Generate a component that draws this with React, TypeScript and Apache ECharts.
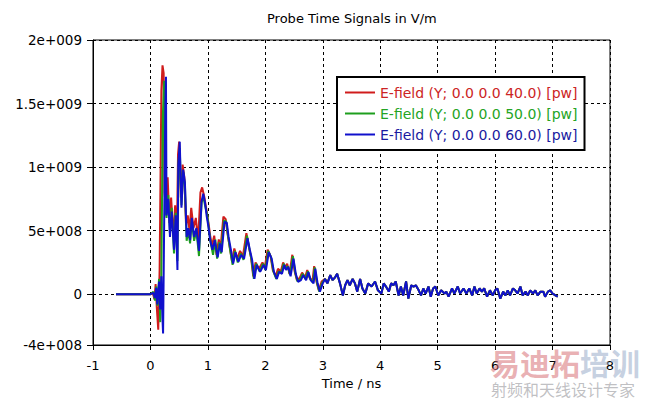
import React, { useEffect, useRef } from "react";
import * as echarts from "echarts";

const titleText = "Probe Time Signals in V/m";
const xName = "Time / ns";
const seriesNames = [
  "E-field (Y; 0.0 0.0 40.0) [pw]",
  "E-field (Y; 0.0 0.0 50.0) [pw]",
  "E-field (Y; 0.0 0.0 60.0) [pw]",
];
const seriesColors = ["#d01c1c", "#1e9e1e", "#1010cc"];
const legendTextColors = ["#cc2424", "#24a424", "#1a1aa0"];

const yTickValues = [-4e8, 0, 5e8, 1e9, 1.5e9, 2e9];
const yTickLabels = ["-4e+008", "0", "5e+008", "1e+009", "1.5e+009", "2e+009"];
const xTickValues = [-1, 0, 1, 2, 3, 4, 5, 6, 7, 8];

// values in units of 1e8 V/m, time in ns
const redHead: [number, number][] = [
  [-0.6, 0], [0.0, 0], [0.04, 0.1], [0.07, -0.4], [0.09, 0.8], [0.11, -1.0], [0.136, -2.8], [0.16, 2.0],
  [0.19, 16.0], [0.21, 18.0], [0.23, 17.4], [0.245, 8.0], [0.27, 6.8], [0.30, 9.2], [0.33, 5.6], [0.36, 7.6],
  [0.40, 4.4], [0.43, 7.0], [0.46, 4.2], [0.48, 11.0], [0.50, 12.0], [0.53, 7.6], [0.56, 10.2], [0.59, 9.2],
  [0.62, 5.4], [0.65, 6.2], [0.68, 5.0], [0.71, 6.8], [0.75, 5.2], [0.79, 6.0], [0.83, 4.2], [0.87, 8.0],
  [0.90, 8.4], [0.94, 7.6], [0.98, 6.5], [1.01, 5.6], [1.04, 4.6], [1.07, 3.8], [1.11, 4.6], [1.15, 3.1],
  [1.19, 4.3], [1.22, 3.6], [1.27, 6.1], [1.31, 5.9], [1.34, 4.8], [1.38, 3.7], [1.42, 2.6], [1.46, 3.6],
  [1.51, 2.8], [1.56, 3.4], [1.61, 3.0], [1.67, 4.8], [1.71, 3.8], [1.75, 2.9], [1.79, 1.4], [1.83, 2.5],
  [1.89, 2.0], [1.95, 2.5], [1.99, 2.1], [2.04, 3.5], [2.09, 3.0], [2.13, 1.9], [2.18, 1.4], [2.22, 2.0],
  [2.27, 1.8], [2.31, 2.5], [2.34, 2.1], [2.38, 2.4], [2.42, 1.6], [2.47, 3.1], [2.51, 1.8], [2.55, 1.1],
  [2.60, 1.3], [2.64, 1.7], [2.69, 1.3], [2.73, 1.9], [2.77, 1.3], [2.82, 1.0], [2.85, 2.2], [2.89, 1.0],
  [2.93, 0.3], [2.98, 1.0],
];

const greenHead: [number, number][] = [
  [-0.6, 0], [0.0, 0], [0.05, 0.2], [0.08, -0.5], [0.1, 0.6], [0.12, -0.9], [0.15, 1.2], [0.17, -2.2],
  [0.19, 1.5], [0.215, 14.0], [0.24, 16.8], [0.255, 7.0], [0.28, 6.0], [0.31, 7.8], [0.34, 4.8], [0.37, 6.8],
  [0.41, 3.2], [0.44, 6.4], [0.47, 2.6], [0.49, 10.5], [0.51, 11.5], [0.54, 7.0], [0.57, 9.6], [0.60, 8.6],
  [0.63, 4.2], [0.66, 5.0], [0.69, 4.0], [0.72, 5.8], [0.76, 4.2], [0.80, 5.0], [0.845, 3.0], [0.89, 7.2],
  [0.92, 7.7], [0.95, 7.0], [0.99, 6.2], [1.02, 5.0], [1.05, 4.0], [1.09, 3.1], [1.13, 4.3], [1.16, 2.8],
  [1.20, 4.1], [1.23, 3.2], [1.28, 5.8], [1.32, 5.7], [1.35, 4.6], [1.39, 3.4], [1.43, 2.3], [1.47, 3.4],
  [1.52, 2.5], [1.57, 3.2], [1.62, 2.7], [1.68, 4.6], [1.72, 3.6], [1.76, 2.7], [1.80, 1.2], [1.84, 2.4],
  [1.90, 1.8], [1.96, 2.4], [2.00, 1.9], [2.05, 3.4], [2.10, 2.9], [2.14, 1.8], [2.19, 1.2], [2.23, 1.8],
  [2.28, 1.7], [2.32, 2.4], [2.35, 2.0], [2.39, 2.2], [2.43, 1.5], [2.48, 3.0], [2.52, 1.7], [2.56, 1.0],
  [2.61, 1.2], [2.65, 1.6], [2.70, 1.2], [2.74, 1.8], [2.78, 1.2], [2.83, 0.9], [2.86, 2.1], [2.90, 0.9],
  [2.94, 0.2], [2.99, 0.9],
];

const blueHead: [number, number][] = [
  [-0.6, 0], [0.0, 0], [0.05, 0.1], [0.08, -0.3], [0.1, 0.5], [0.12, -0.8], [0.15, 1.0], [0.17, -1.2],
  [0.19, 1.4], [0.21, -2.0], [0.22, -3.1], [0.24, 6.0], [0.26, 15.0], [0.27, 17.1], [0.28, 6.2], [0.31, 7.5],
  [0.34, 4.5], [0.37, 6.5], [0.41, 3.5], [0.44, 6.2], [0.47, 1.9], [0.485, 10.2], [0.51, 12.0], [0.54, 6.8],
  [0.57, 9.8], [0.60, 8.8], [0.63, 4.5], [0.66, 5.2], [0.69, 4.25], [0.72, 6.0], [0.76, 4.5], [0.80, 5.2],
  [0.845, 3.4], [0.89, 7.3], [0.92, 7.9], [0.95, 7.2], [0.98, 6.1], [1.01, 5.3], [1.04, 4.25], [1.08, 3.5],
  [1.12, 4.25], [1.17, 2.9], [1.21, 4.0], [1.24, 3.3], [1.29, 5.7], [1.33, 5.6], [1.36, 4.5], [1.40, 3.5],
  [1.44, 2.4], [1.48, 3.3], [1.53, 2.55], [1.58, 3.1], [1.63, 2.8], [1.69, 4.4], [1.73, 3.5], [1.77, 2.7],
  [1.81, 1.2], [1.85, 2.3], [1.91, 1.75], [1.97, 2.3], [2.01, 1.9], [2.06, 3.3], [2.11, 2.8], [2.15, 1.75],
  [2.20, 1.2], [2.24, 1.75], [2.29, 1.6], [2.33, 2.3], [2.36, 1.9], [2.40, 2.15], [2.44, 1.4], [2.49, 2.8],
  [2.53, 1.6], [2.57, 0.97], [2.62, 1.1], [2.66, 1.5], [2.71, 1.1], [2.75, 1.75], [2.79, 1.1], [2.84, 0.85],
  [2.87, 2.0], [2.91, 0.85], [2.95, 0.2], [3.0, 0.85],
];

// late part, where the three traces coincide
const sharedTail: [number, number][] = [
  [3.04, 1.2], [3.08, 0.85], [3.13, 1.5], [3.17, 1.1], [3.21, 1.3], [3.25, 1.6], [3.30, 0.85], [3.35, -0.1],
  [3.39, 0.7], [3.43, 1.1], [3.47, 0.7], [3.52, 1.2], [3.56, 0.85], [3.60, 0.2], [3.65, 1.2], [3.69, 0.45],
  [3.74, 0.05], [3.79, 0.85], [3.85, 0.6], [3.91, 1.0], [3.96, 0.3], [4.02, 0.05], [4.06, 0.85], [4.10, 0.6],
  [4.15, 0.2], [4.19, 0.85], [4.23, 0.7], [4.27, 1.0], [4.32, -0.1], [4.36, 0.6], [4.40, -0.1], [4.45, 1.0],
  [4.49, -0.35], [4.54, 0.7], [4.58, 0.6], [4.62, 0.7], [4.67, 0.3], [4.71, -0.1], [4.75, 0.45], [4.79, 0.05],
  [4.84, 0.6], [4.88, -0.2], [4.92, 0.45], [4.96, 0.6], [5.01, -0.1], [5.06, 0.3], [5.12, 0.05], [5.15, 0.2],
  [5.19, -0.2], [5.25, 0.45], [5.29, 0.05], [5.35, 0.6], [5.39, 0.05], [5.45, 0.45], [5.50, 0.05], [5.55, 0.45],
  [5.60, -0.1], [5.64, 0.6], [5.68, 0.05], [5.73, 0.45], [5.77, 0.2], [5.81, 0.45], [5.86, -0.2], [5.91, 0.3],
  [5.96, -0.1], [6.00, 0.3], [6.04, 0.45], [6.09, -0.35], [6.14, 0.2], [6.18, -0.1], [6.22, 0.3], [6.26, -0.1],
  [6.31, 0.45], [6.35, 0.3], [6.39, 0.05], [6.44, 0.6], [6.48, -0.1], [6.53, 0.2], [6.57, -0.1], [6.61, 0.3],
  [6.66, 0.05], [6.70, 0.3], [6.74, -0.1], [6.79, 0.2], [6.84, 0.2], [6.87, -0.2], [6.92, 0.2], [6.96, 0.3],
  [7.00, 0.05], [7.05, -0.1], [7.09, -0.2],
];

const watermarkTopA = "易迪拓";
const watermarkTopB = "培训";
const watermarkBottom = "射频和天线设计专家";

const FONT = "DejaVu Sans";

export default function App() {
  const ref = useRef<HTMLDivElement>(null);

  useEffect(() => {
    document.body.style.margin = "0";
    if (!ref.current) return;
    const chart = echarts.init(ref.current, undefined, { renderer: "svg" });
    const heads = [redHead, greenHead, blueHead];
    const toData = (h: [number, number][]) =>
      h.concat(sharedTail).map(([t, v]) => [t, v * 1e8]);

    chart.setOption({
      animation: false,
      backgroundColor: "#ffffff",
      textStyle: { fontFamily: FONT },
      title: {
        text: titleText,
        left: 267,
        top: 12,
        padding: 0,
        textStyle: { fontSize: 13, fontWeight: "normal", color: "#000", fontFamily: FONT },
      },
      grid: {
        left: 93,
        top: 40,
        right: 35,
        bottom: 53,
        show: true,
        borderColor: "#000",
        borderWidth: 1,
        backgroundColor: "transparent",
      },
      legend: {
        orient: "vertical",
        left: 337,
        top: 77,
        padding: [8, 7, 8, 8],
        itemWidth: 30,
        itemHeight: 2,
        itemGap: 6,
        icon: "rect",
        backgroundColor: "#fff",
        borderColor: "#000",
        borderWidth: 2,
        borderRadius: 0,
        textStyle: { fontSize: 14, fontFamily: FONT, lineHeight: 15, padding: [0, 0, 0, 0] },
        data: seriesNames.map((n, i) => ({ name: n, textStyle: { color: legendTextColors[i] } })),
      },
      xAxis: {
        type: "value",
        min: xTickValues[0],
        max: xTickValues[xTickValues.length - 1],
        interval: 1,
        name: xName,
        nameLocation: "middle",
        nameGap: 32,
        nameTextStyle: { fontSize: 13, color: "#000", fontFamily: FONT },
        axisLine: { show: true, onZero: false, lineStyle: { color: "#000", width: 1 } },
        axisTick: { show: true, length: 5, lineStyle: { color: "#000" } },
        axisLabel: { fontSize: 13, color: "#000", margin: 14, fontFamily: FONT },
        splitLine: { show: true, lineStyle: { color: "#000", type: [3, 3], width: 1 } },
      },
      yAxis: {
        type: "value",
        min: yTickValues[0],
        max: yTickValues[yTickValues.length - 1],
        axisLine: { show: true, onZero: false, lineStyle: { color: "#000", width: 1 } },
        axisTick: { show: true, length: 6, customValues: yTickValues, lineStyle: { color: "#000" } },
        axisLabel: {
          fontSize: 13.5,
          color: "#000",
          margin: 11,
          fontFamily: FONT,
          customValues: yTickValues,
          formatter: (v: number) => {
            const i = yTickValues.findIndex((x) => Math.abs(x - v) < 1);
            return i >= 0 ? yTickLabels[i] : "";
          },
        },
        splitLine: { show: true, lineStyle: { color: "#000", type: [3, 3], width: 1 } },
      },
      series: heads.map((h, i) => ({
        name: seriesNames[i],
        type: "line",
        data: toData(h),
        showSymbol: false,
        symbol: "none",
        color: seriesColors[i],
        lineStyle: { width: 2, color: seriesColors[i] },
        z: 2 + i,
      })),
      graphic: [
        {
          type: "text",
          left: 490,
          top: 347,
          z: 100,
          style: {
            text: `{a|${watermarkTopA}}{b|${watermarkTopB}}`,
            rich: {
              a: {
                fontSize: 30,
                fontWeight: "bold",
                fontFamily: "Noto Sans CJK SC",
                fill: "rgba(215, 110, 115, 0.55)",
              },
              b: {
                fontSize: 30,
                fontWeight: "bold",
                fontFamily: "Noto Sans CJK SC",
                fill: "rgba(150, 170, 200, 0.55)",
              },
            },
          },
        },
        {
          type: "text",
          left: 491,
          top: 381,
          z: 100,
          style: {
            text: watermarkBottom,
            font: "16px 'Noto Sans CJK SC'",
            fill: "rgba(150, 150, 155, 0.6)",
          },
        },
      ],
    });
    return () => chart.dispose();
  }, []);

  return (
    <div
      ref={ref}
      style={{ position: "absolute", left: 0, top: 0, width: 645, height: 398 }}
    />
  );
}
